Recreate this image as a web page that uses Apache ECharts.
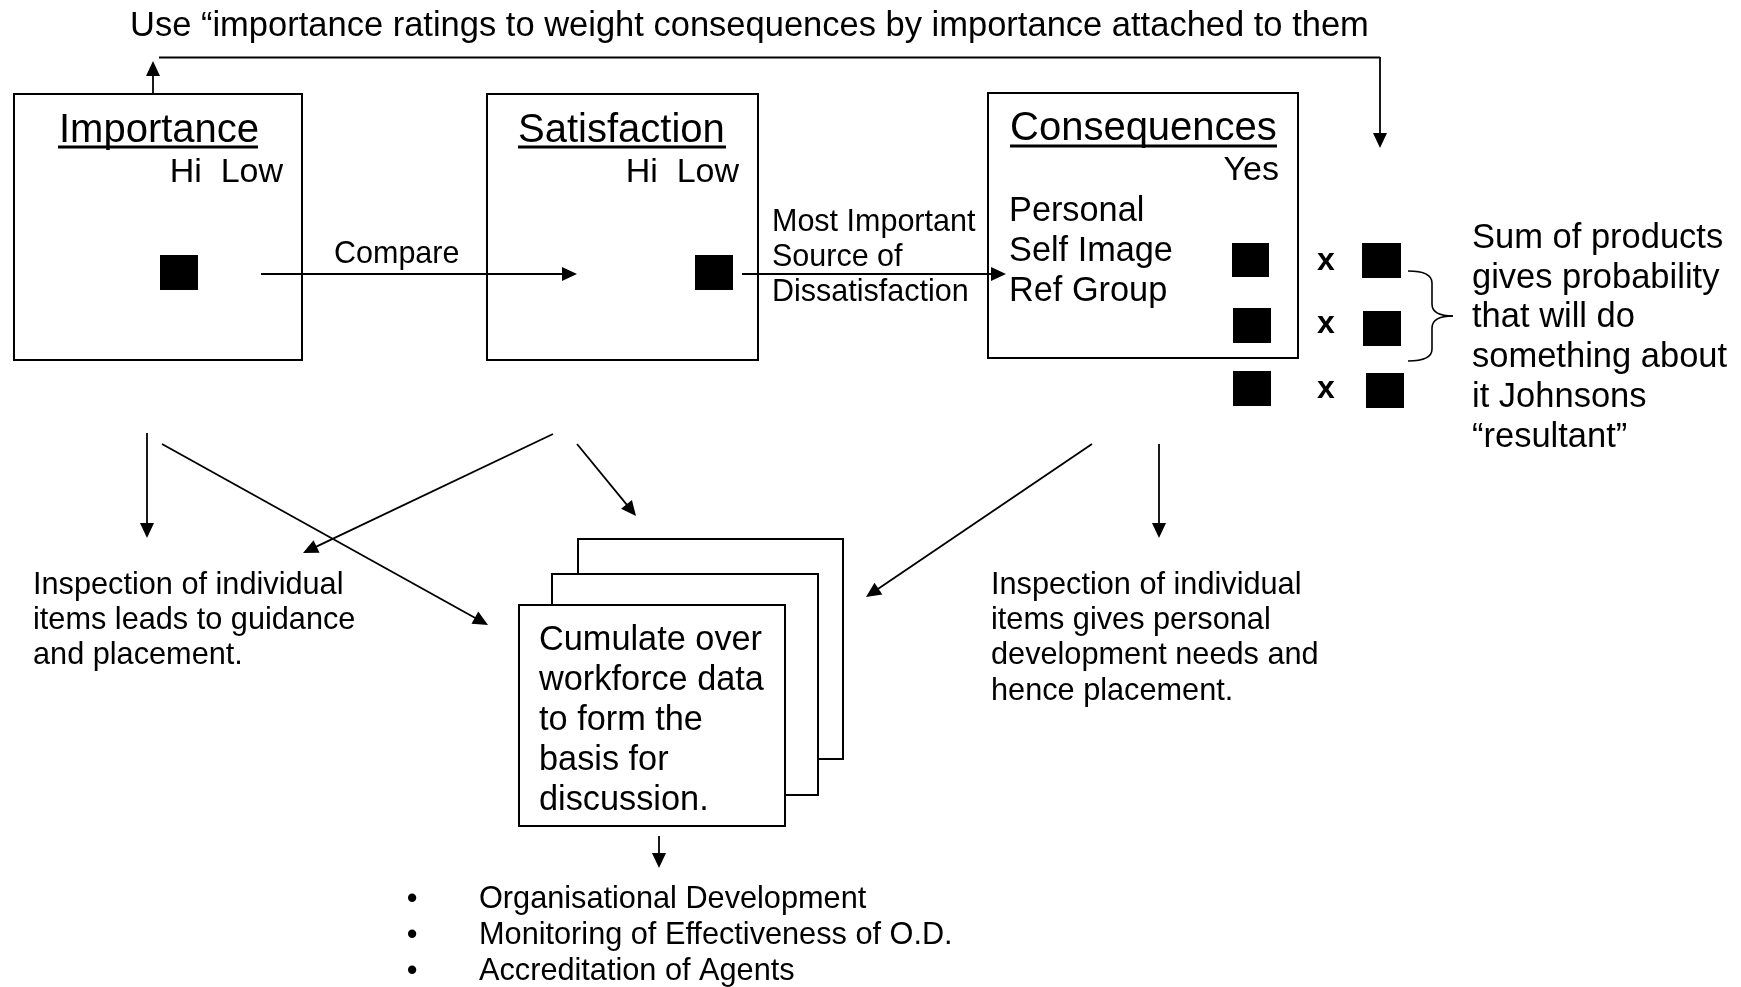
<!DOCTYPE html>
<html>
<head>
<meta charset="utf-8">
<script src="https://cdn.jsdelivr.net/npm/echarts@6/dist/echarts.min.js"></script>
<style>
html,body{margin:0;padding:0;background:#ffffff;}
#chart{width:1741px;height:987px;}
</style>
</head>
<body>
<div id="chart"></div>
<script>
// ---------------- content (texts) ----------------
const titleText = 'Use \u201cimportance ratings to weight consequences by importance attached to them';
const boxTitles = ['Importance', 'Satisfaction', 'Consequences'];
const ratingLabels = ['Hi  Low', 'Hi  Low', 'Yes'];
const compareLabel = ['Compare'];
const sourceLabel = ['Most Important', 'Source of', 'Dissatisfaction'];
const consequenceItems = ['Personal', 'Self Image', 'Ref Group'];
const productSigns = ['x', 'x', 'x'];
const resultantText = ['Sum of products', 'gives probability', 'that will do', 'something about', 'it Johnsons', '\u201cresultant\u201d'];
const guidanceNote = ['Inspection of individual', 'items leads to guidance', 'and placement.'];
const developmentNote = ['Inspection of individual', 'items gives personal', 'development needs and', 'hence placement.'];
const cumulateText = ['Cumulate over', 'workforce data', 'to form the', 'basis for', 'discussion.'];
const outcomes = ['Organisational Development', 'Monitoring of Effectiveness of O.D.', 'Accreditation of Agents'];

// ---------------- layout (diagram coordinates, pixel units of the 1741x987 canvas) ----------------
const boxRects = [[14, 94, 302, 360], [487, 94, 758, 360], [988, 93, 1298, 358]];
const pageRects = [[578, 539, 843, 759], [552, 574, 818, 795], [519, 605, 785, 826]];
const markerRects = [
  [160, 255, 198, 290], [695, 255, 733, 290],
  [1232, 243, 1269, 277], [1233, 308, 1271, 343], [1233, 371, 1271, 406],
  [1362, 243, 1401, 278], [1363, 311, 1401, 346], [1366, 373, 1404, 408]
];
const connectorLines = [[159, 57.5, 1380, 57.5]];
const arrowLines = [
  [153, 94, 153, 61], [1380, 57, 1380, 148],
  [261, 274, 577, 274], [742, 274, 1006, 274],
  [147, 433, 147, 538], [162, 444, 488, 625], [553, 434, 303, 553],
  [577, 444, 636, 516], [1092, 444, 866, 597], [1159, 444, 1159, 538],
  [659, 836, 659, 868]
];
const underlineRects = [[58, 145.5, 258, 148.5], [518, 145.5, 726, 148.5], [1010, 144.5, 1277, 147.5]];
const braceGeom = [[1408, 271, 1432, 316, 1453, 361]];

const W = 1741, H = 987;
const FONT = '"Liberation Sans", Arial, Helvetica, sans-serif';

// text entries built from content + layout
const textEntries = [];
function addLines(lines, x, y0, step, size, opts) {
  lines.forEach(function (s, i) {
    textEntries.push(Object.assign({ x: x, y: y0 + i * step, text: s, size: size }, opts || {}));
  });
}
addLines([titleText], 130, 36, 0, 34.5);
addLines([boxTitles[0]], 59, 142, 0, 40);
addLines([boxTitles[1]], 518, 142, 0, 40);
addLines([boxTitles[2]], 1010, 140, 0, 40);
addLines([ratingLabels[0]], 283, 182, 0, 34, { align: 'right' });
addLines([ratingLabels[1]], 739, 182, 0, 34, { align: 'right' });
addLines([ratingLabels[2]], 1279, 180, 0, 34, { align: 'right' });
addLines(compareLabel, 334, 263, 0, 30.5);
addLines(sourceLabel, 772, 231, 35, 30.5);
addLines(consequenceItems, 1009, 221, 40, 34.3);
textEntries.push({ x: 1326, y: 270, text: productSigns[0], size: 32, weight: 'bold', align: 'center' });
textEntries.push({ x: 1326, y: 333, text: productSigns[1], size: 32, weight: 'bold', align: 'center' });
textEntries.push({ x: 1326, y: 398, text: productSigns[2], size: 32, weight: 'bold', align: 'center' });
addLines(resultantText, 1472, 248, 39.8, 34.5);
addLines(guidanceNote, 33, 594, 35, 30.7);
addLines(developmentNote, 991, 594, 35.3, 30.7);
addLines(cumulateText, 539, 650, 40, 34.3);
addLines(outcomes.map(function () { return '\u2022'; }), 412, 908, 36.3, 30.7, { align: 'center' });
addLines(outcomes, 479, 908, 36.3, 30.7);

function rectSeries(data, fill, stroke, lw) {
  return {
    type: 'custom', coordinateSystem: 'cartesian2d', silent: true, animation: false, clip: false,
    data: data,
    renderItem: function (params, api) {
      const p0 = api.coord([api.value(0), api.value(1)]);
      const p1 = api.coord([api.value(2), api.value(3)]);
      return {
        type: 'rect',
        shape: { x: p0[0], y: p0[1], width: p1[0] - p0[0], height: p1[1] - p0[1] },
        style: { fill: fill, stroke: stroke, lineWidth: lw }
      };
    }
  };
}

const series = [
  rectSeries(boxRects, '#ffffff', '#000000', 2),
  rectSeries(pageRects, '#ffffff', '#000000', 2),
  rectSeries(markerRects, '#000000', null, 0),
  rectSeries(underlineRects, '#000000', null, 0),
  {
    type: 'custom', coordinateSystem: 'cartesian2d', silent: true, animation: false, clip: false,
    data: connectorLines,
    renderItem: function (params, api) {
      const a = api.coord([api.value(0), api.value(1)]);
      const b = api.coord([api.value(2), api.value(3)]);
      return { type: 'line', shape: { x1: a[0], y1: a[1], x2: b[0], y2: b[1] }, style: { stroke: '#000', lineWidth: 2 } };
    }
  },
  {
    type: 'custom', coordinateSystem: 'cartesian2d', silent: true, animation: false, clip: false,
    data: arrowLines,
    renderItem: function (params, api) {
      const a = api.coord([api.value(0), api.value(1)]);
      const b = api.coord([api.value(2), api.value(3)]);
      const dx = b[0] - a[0], dy = b[1] - a[1];
      const L = Math.sqrt(dx * dx + dy * dy), ux = dx / L, uy = dy / L;
      const hl = 15, hw = 7;
      const base = [b[0] - ux * hl, b[1] - uy * hl];
      return {
        type: 'group', children: [
          { type: 'line', shape: { x1: a[0], y1: a[1], x2: base[0] + ux * 2, y2: base[1] + uy * 2 }, style: { stroke: '#000', lineWidth: 1.8 } },
          { type: 'polygon', shape: { points: [b, [base[0] - uy * hw, base[1] + ux * hw], [base[0] + uy * hw, base[1] - ux * hw]] }, style: { fill: '#000' } }
        ]
      };
    }
  },
  {
    type: 'custom', coordinateSystem: 'cartesian2d', silent: true, animation: false, clip: false,
    data: braceGeom,
    renderItem: function (params, api) {
      const top = api.coord([api.value(0), api.value(1)]);
      const mid = api.coord([api.value(2), api.value(3)]);
      const tip = api.coord([api.value(4), api.value(3)]);
      const bot = api.coord([api.value(0), api.value(5)]);
      const x0 = top[0], xm = mid[0], xt = tip[0];
      const yT = top[1], yM = mid[1], yB = bot[1];
      const r = 12;
      const st = { stroke: '#000', lineWidth: 1.6, fill: null };
      return {
        type: 'group', children: [
          { type: 'bezierCurve', shape: { x1: x0, y1: yT, cpx1: xm, cpy1: yT, x2: xm, y2: yT + r }, style: st },
          { type: 'line', shape: { x1: xm, y1: yT + r, x2: xm, y2: yM - r }, style: st },
          { type: 'bezierCurve', shape: { x1: xm, y1: yM - r, cpx1: xm, cpy1: yM, x2: xt, y2: yM }, style: st },
          { type: 'bezierCurve', shape: { x1: xt, y1: yM, cpx1: xm, cpy1: yM, x2: xm, y2: yM + r }, style: st },
          { type: 'line', shape: { x1: xm, y1: yM + r, x2: xm, y2: yB - r }, style: st },
          { type: 'bezierCurve', shape: { x1: xm, y1: yB - r, cpx1: xm, cpy1: yB, x2: x0, y2: yB }, style: st }
        ]
      };
    }
  },
  {
    type: 'custom', coordinateSystem: 'cartesian2d', silent: true, animation: false, clip: false,
    data: textEntries.map(function (t, i) { return [t.x, t.y, i]; }),
    renderItem: function (params, api) {
      const t = textEntries[api.value(2)];
      const p = api.coord([api.value(0), api.value(1)]);
      return {
        type: 'text',
        x: p[0], y: p[1] - 0.28 * t.size,
        style: {
          text: t.text, fill: '#000000',
          font: (t.weight || 'normal') + ' ' + t.size + 'px ' + FONT,
          align: t.align || 'left', verticalAlign: 'middle',
          textAlign: t.align || 'left', textVerticalAlign: 'middle'
        }
      };
    }
  }
];

const chart = echarts.init(document.getElementById('chart'), null, { renderer: 'canvas', width: W, height: H });
chart.setOption({
  backgroundColor: '#ffffff',
  animation: false,
  grid: { left: 0, right: 0, top: 0, bottom: 0, containLabel: false },
  xAxis: { type: 'value', min: 0, max: W, show: false },
  yAxis: { type: 'value', min: 0, max: H, inverse: true, show: false },
  series: series
});
</script>
</body>
</html>
